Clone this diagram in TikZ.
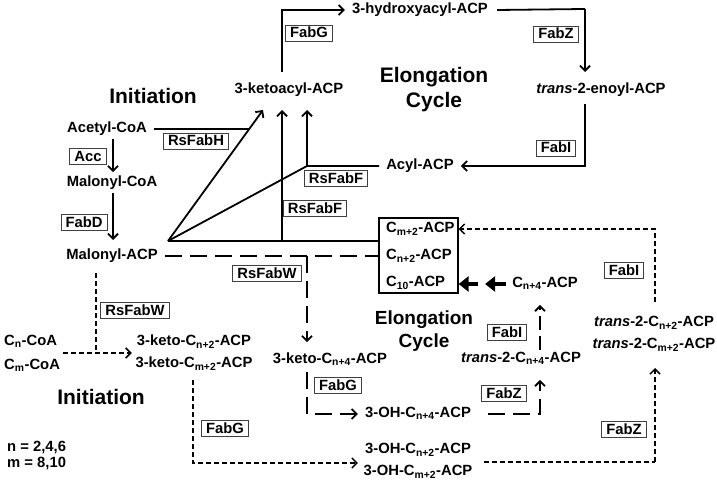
\documentclass[tikz,border=0pt]{standalone}
\usepackage{fontspec}
\setmainfont{Liberation Sans}
\usetikzlibrary{arrows.meta}
\newcommand{\sbs}[1]{\textsubscript{#1}}
\begin{document}
\begin{tikzpicture}[x=1pt,y=-1pt,
  lbl/.style={font=\fontsize{14.8}{16}\selectfont\bfseries, inner sep=1pt, text height=10.5pt, text depth=3pt},
  big/.style={font=\fontsize{21}{25}\selectfont\bfseries, inner sep=0pt, align=center},
  big2/.style={font=\fontsize{19}{22.5}\selectfont\bfseries, inner sep=0pt, align=center},
  enz/.style={draw=black!75, line width=0.9pt, fill=white, font=\fontsize{14.8}{16}\selectfont\bfseries, inner xsep=4.5pt, inner ysep=2.5pt, text height=10.5pt, text depth=0.5pt},
  sl/.style={line width=1.8pt},
  tip/.style={-{Straight Barb[length=5pt,width=10pt]}},
  arr/.style={sl, tip},
  ld/.style={line width=1.8pt, dash pattern=on 17pt off 8pt},
  ldarr/.style={ld, tip},
  sd/.style={line width=1.3pt, dash pattern=on 5pt off 3pt},
  sdarr/.style={sd, -{Straight Barb[length=5pt,width=10pt,line width=1.5pt]}},
  tk/.style={line width=4.5pt, -{Triangle[length=10pt,width=15pt]}}
]
\useasboundingbox (0,0) rectangle (717,484);

% ---------- upper part ----------
\node[lbl] (hyd) at (420,10) {3-hydroxyacyl-ACP};
\node[lbl] (keto) at (289,90) {3-ketoacyl-ACP};
\node[lbl] (enoyl) at (601,90) {\textit{trans}-2-enoyl-ACP};
\node[lbl] (acyl) at (420,166) {Acyl-ACP};
\node[lbl] (acetyl) at (107,129) {Acetyl-CoA};
\node[lbl] (malcoa) at (112,183) {Malonyl-CoA};
\node[lbl] (malacp) at (112,256) {Malonyl-ACP};
\node[big] (ini1) at (153,96) {Initiation};
\node[big] (elo1) at (434,90) {Elongation\\Cycle};

\node[enz] (fabG1) at (309,33) {FabG};
\node[enz] (fabZ1) at (556,34) {FabZ};
\node[enz] (fabI1) at (556,148) {FabI};
\node[enz] (rsH) at (196,141) {RsFabH};
\node[enz] (rsF1) at (336,178) {RsFabF};
\node[enz] (rsF2) at (315,208) {RsFabF};
\node[enz] (acc) at (88,156) {Acc};
\node[enz] (fabD) at (84,222) {FabD};

\coordinate (k1) at (282,72);
\coordinate (h1) at (585,9);
\coordinate (e1) at (585,104);
\coordinate (apex) at (168,241);
\coordinate (jF) at (307,166);
\coordinate (tipH) at (263,110);
\coordinate (tipF1) at (282,110);
\coordinate (tipF2) at (307,110);
\coordinate (baseF1) at (282,241);

\draw[arr] (k1) |- ([xshift=-6pt]hyd.west);
\draw[sl] ([xshift=8pt]hyd.east) -- (h1);
\draw[arr] (h1) -- (585,72);
\draw[arr] (e1) |- ([xshift=6pt]acyl.east);
\draw[arr] ([yshift=-2pt]acetyl.south -| 113,0) -- ([yshift=3pt]malcoa.north -| 113,0);
\draw[arr] ([yshift=-2pt]malcoa.south -| 113,0) -- (113,240);

% ---------- central pool ----------
\node[draw, line width=1.2pt, minimum width=79pt, minimum height=75pt, inner sep=0pt] (pool) at (418.5,255.5) {};
\node[lbl, anchor=west] (cm2) at (385,229) {C\sbs{m+2}-ACP};
\node[lbl, anchor=west] (cn2) at (385,256) {C\sbs{n+2}-ACP};
\node[lbl, anchor=west] (c10) at (385,283) {C\sbs{10}-ACP};

\draw[sl] ([xshift=6pt]acetyl.east) -- (acetyl.east -| 249,0);
\draw[arr] (apex) -- (tipH);
\draw[sl] ([xshift=-6pt]acyl.west) -- (jF) -- (apex);
\draw[arr] (jF) -- (tipF2);
\draw[arr] (baseF1) -- (tipF1);
\draw[sl] (apex) -- (apex -| pool.west);

% ---------- lower part ----------
\node[enz] (rsW1) at (267,273) {RsFabW};
\node[enz] (rsW2) at (135,310) {RsFabW};
\node[enz] (fabG2) at (338,385) {FabG};
\node[enz] (fabZ2) at (504,393) {FabZ};
\node[enz] (fabI2) at (507,332) {FabI};
\node[enz] (fabI3) at (624,270) {FabI};
\node[enz] (fabZ3) at (624,429) {FabZ};
\node[enz] (fabG3) at (225,428) {FabG};

\node[lbl] (k4) at (330,360) {3-keto-C\sbs{n+4}-ACP};
\node[lbl] (oh4) at (418,414) {3-OH-C\sbs{n+4}-ACP};
\node[lbl] (t4) at (521,359) {\textit{trans}-2-C\sbs{n+4}-ACP};
\node[lbl] (cn4) at (545,284) {C\sbs{n+4}-ACP};
\node[lbl] (tn2) at (654,323) {\textit{trans}-2-C\sbs{n+2}-ACP};
\node[lbl] (tm2) at (654,345) {\textit{trans}-2-C\sbs{m+2}-ACP};
\node[lbl] (ohn2) at (418,450) {3-OH-C\sbs{n+2}-ACP};
\node[lbl] (ohm2) at (418,472) {3-OH-C\sbs{m+2}-ACP};
\node[lbl] (kn2) at (194,342) {3-keto-C\sbs{n+2}-ACP};
\node[lbl] (km2) at (194,364) {3-keto-C\sbs{m+2}-ACP};
\node[lbl, anchor=west] (cncoa) at (3,342) {C\sbs{n}-CoA};
\node[lbl, anchor=west] (cmcoa) at (3,366) {C\sbs{m}-CoA};
\node[big] (ini2) at (101,397) {Initiation};
\node[big2] (elo2) at (424,331) {Elongation\\Cycle};
\node[lbl, anchor=west] (nval) at (6,448) {n = 2,4,6};
\node[lbl, anchor=west] (mval) at (6,464) {m = 8,10};

% long dashed path
\coordinate (w1) at (307,256);
\draw[ld] ([xshift=6pt]malacp.east) -- (malacp.east -| pool.west);
\draw[ldarr] (w1) -- ([yshift=10pt]k4.north -| w1);
\draw[ldarr] ([yshift=-4pt]k4.south -| w1) |- ([xshift=-6pt]oh4.west);
\draw[ldarr] ([xshift=16pt]oh4.east) -| ([yshift=-13pt]t4.south -| 540,0);
\draw[ldarr, dash pattern=on 14pt off 6pt] ([yshift=1pt]t4.north -| 540,0) -- ([yshift=-13pt]cn4.south -| 540,0);

% thick arrows
\draw[tk] ([xshift=-5pt]cn4.west) -- ++(-21,0);
\draw[tk] ([xshift=-33pt]cn4.west) -- (pool.east |- cn4.west);

% short dashed paths
\coordinate (r1) at (655,302);
\coordinate (r2) at (655,368);
\coordinate (r3) at (655,462);
\draw[sdarr] (r1) |- (pool.east |- cm2);
\draw[sd] ([xshift=12pt]ohn2.east |- r3) -- (r3);
\draw[sdarr] (r3) -- (r2);
\coordinate (g1) at (193,380);
\coordinate (g2) at (193,463);
\draw[sdarr] (g1) -- (g2) -- ([xshift=-6pt]ohn2.west |- g2);
\coordinate (c1) at (63,353);
\coordinate (c2) at (96,353);
\coordinate (c3) at (96,273);
\draw[sdarr] (c1) -- ([xshift=-4pt]kn2.west |- c1);
\draw[sd] (c3) -- (c2);
\end{tikzpicture}
\end{document}
